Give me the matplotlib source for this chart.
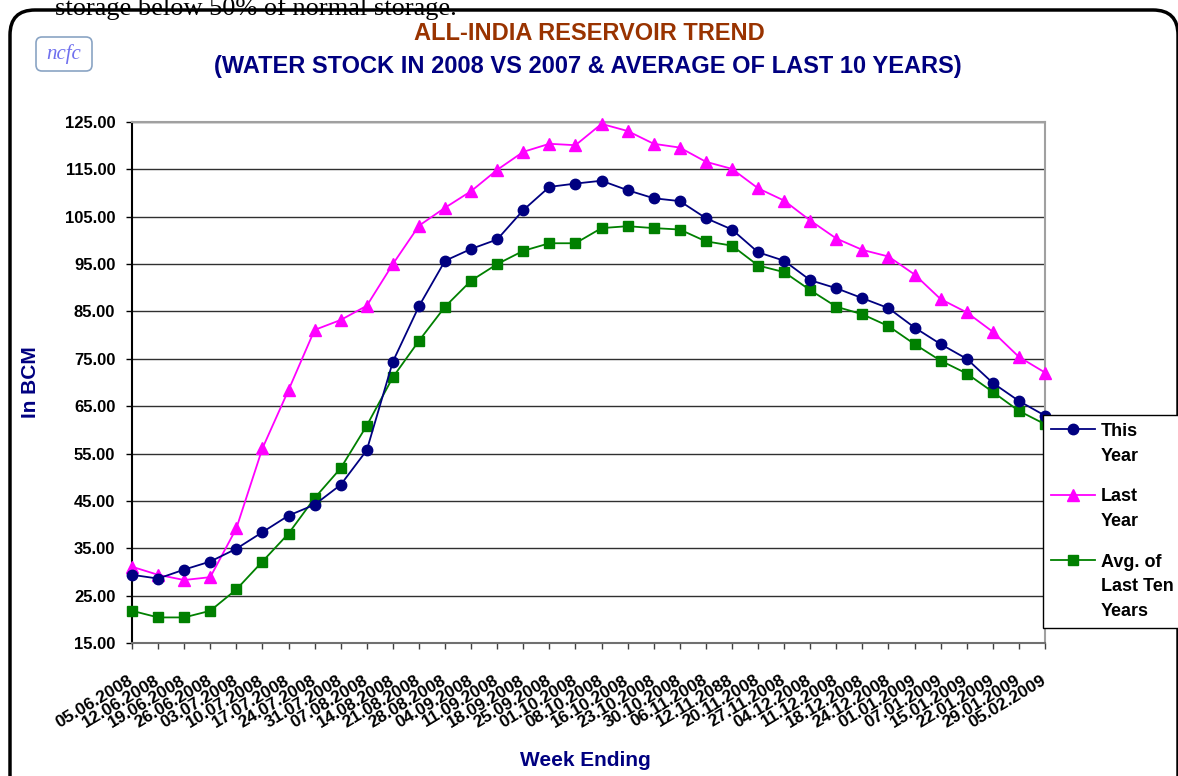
import numpy as np
import matplotlib.pyplot as plt
from matplotlib.patches import FancyBboxPatch

plt.rcParams['font.family'] = ['Liberation Sans', 'DejaVu Sans']

# week ending dates (as printed on the chart)
weeks = ["05.06.2008", "12.06.2008", "19.06.2008", "26.06.2008", "03.07.2008",
         "10.07.2008", "17.07.2008", "24.07.2008", "31.07.2008", "07.08.2008",
         "14.08.2008", "21.08.2008", "28.08.2008", "04.09.2008", "11.09.2008",
         "18.09.2008", "25.09.2008", "01.10.2008", "08.10.2008", "16.10.2008",
         "23.10.2008", "30.10.2008", "06.11.2008", "12.11.2088", "20.11.2008",
         "27.11.2008", "04.12.2008", "11.12.2008", "18.12.2008", "24.12.2008",
         "01.01.2009", "07.01.2009", "15.01.2009", "22.01.2009", "29.01.2009",
         "05.02.2009"]

# storage in BCM
this_year = [29.4, 28.6, 30.5, 32.2, 34.9, 38.4, 41.9, 44.2, 48.4, 55.7,
             74.4, 86.1, 95.7, 98.2, 100.2, 106.4, 111.3, 112.0, 112.6, 110.6,
             108.9, 108.3, 104.7, 102.3, 97.5, 95.7, 91.6, 89.9, 87.8, 85.7,
             81.6, 78.1, 75.0, 69.9, 66.1, 63.0]
last_year = [31.1, 29.4, 28.3, 28.9, 39.2, 56.1, 68.4, 81.1, 83.2, 86.2,
             95.0, 103.1, 106.9, 110.4, 114.9, 118.7, 120.4, 120.1, 124.6, 123.1,
             120.4, 119.6, 116.6, 115.1, 111.0, 108.4, 104.2, 100.4, 98.0, 96.6,
             92.8, 87.6, 84.8, 80.7, 75.4, 72.1]
avg_ten_years = [21.8, 20.4, 20.4, 21.8, 26.3, 32.2, 38.1, 45.6, 51.9, 60.9,
                 71.1, 78.8, 86.0, 91.5, 95.0, 97.8, 99.4, 99.4, 102.6, 103.0,
                 102.6, 102.3, 99.8, 98.9, 94.7, 93.3, 89.5, 86.0, 84.4, 81.9,
                 78.1, 74.6, 71.9, 68.0, 64.0, 61.2]

yticks = np.arange(15, 126, 10)

W, H = 1178, 776
fig = plt.figure(figsize=(W / 100, H / 100), dpi=100)
fig.patch.set_facecolor('white')

# plot area
ax = fig.add_axes([132 / W, 1 - 643 / H, (1045 - 132) / W, (643 - 122) / H])
x = np.arange(len(weeks))

ax.plot(x, this_year, '-o', color='#000080', lw=1.3, ms=7.5, clip_on=False, zorder=4, label='This\nYear')
ax.plot(x, last_year, '-^', color='#FF00FF', lw=1.3, ms=9, clip_on=False, zorder=3, label='Last\nYear')
ax.plot(x, avg_ten_years, '-s', color='#008000', lw=1.3, ms=7, clip_on=False, zorder=3,
        label='Avg. of\nLast Ten\nYears')

ax.set_xlim(0, len(weeks) - 1)
ax.set_ylim(15, 125)
ax.set_yticks(yticks)
ax.set_yticklabels(['%.2f' % v for v in yticks], fontweight='bold', fontsize=12)
ax.set_xticks(x)
ax.set_xticklabels(weeks, rotation=31, ha='right', va='center', rotation_mode='anchor',
                   fontweight='bold', fontsize=12.5)
ax.tick_params(axis='y', length=4, width=1, pad=8, color='black')
ax.tick_params(axis='x', length=4, width=1, pad=22, color='#404040')

# grid and frame
ax.grid(axis='y', color='#303030', lw=1)
ax.set_axisbelow(True)
ax.spines['left'].set_color('black')
ax.spines['bottom'].set_color('#707070')
ax.spines['top'].set_color('#a0a0a0')
ax.spines['right'].set_color('#a0a0a0')
for s in ax.spines.values():
    s.set_linewidth(1.5)

ax.set_ylabel('In BCM', fontsize=15, fontweight='bold', color='#000080')
ax.yaxis.set_label_coords(-92 / 913, 0.5)
fig.text(585 / W, 1 - 761 / H, 'Week Ending', ha='center', va='center',
         fontsize=15, fontweight='bold', color='#000080')

# titles
fig.text(589 / W, 1 - 33 / H, 'ALL-INDIA RESERVOIR TREND', ha='center', va='center',
         fontsize=17, fontweight='bold', color='#993300')
fig.text(588 / W, 1 - 67 / H, '(WATER STOCK IN 2008 VS 2007 & AVERAGE OF LAST 10 YEARS)',
         ha='center', va='center', fontsize=17, fontweight='bold', color='#000080')

# legend (runs off the right edge like the original)
leg = fig.legend(loc='upper left', bbox_to_anchor=(1043 / W, 1 - 415 / H),
                 frameon=True, fancybox=False, edgecolor='black', framealpha=1,
                 borderaxespad=0, prop=dict(weight='bold', size=13),
                 handlelength=2.45, handletextpad=0.3, labelspacing=1.3, borderpad=0.45)
leg.get_frame().set_linewidth(1)
for t in leg.get_texts():
    t.set_linespacing(1.6)
try:
    for col in leg._legend_handle_box.get_children():
        for row in col.get_children():
            row.align = 'top'
except AttributeError:
    pass

# outer rounded border, logo and the cut-off page text
fig.add_artist(FancyBboxPatch((0.10, -1.0), 11.68, 8.66, boxstyle='round,pad=0,rounding_size=0.25',
                              transform=fig.dpi_scale_trans, fill=False, lw=2.5, ec='black'))
fig.add_artist(FancyBboxPatch((0.36, 7.05), 0.56, 0.34, boxstyle='round,pad=0,rounding_size=0.06',
                              transform=fig.dpi_scale_trans, fc='white', lw=1.2, ec='#8aa4c4'))
fig.text(64 / W, 1 - 54 / H, 'ncfc', ha='center', va='center', fontsize=15, style='italic',
         family='Liberation Serif', color='#7070ee')
fig.text(55 / W, 1 - 15 / H, 'storage below 50% of normal storage.', ha='left', va='baseline',
         fontsize=19, family='Liberation Serif', color='black')

fig.savefig('out.png', dpi=100)
